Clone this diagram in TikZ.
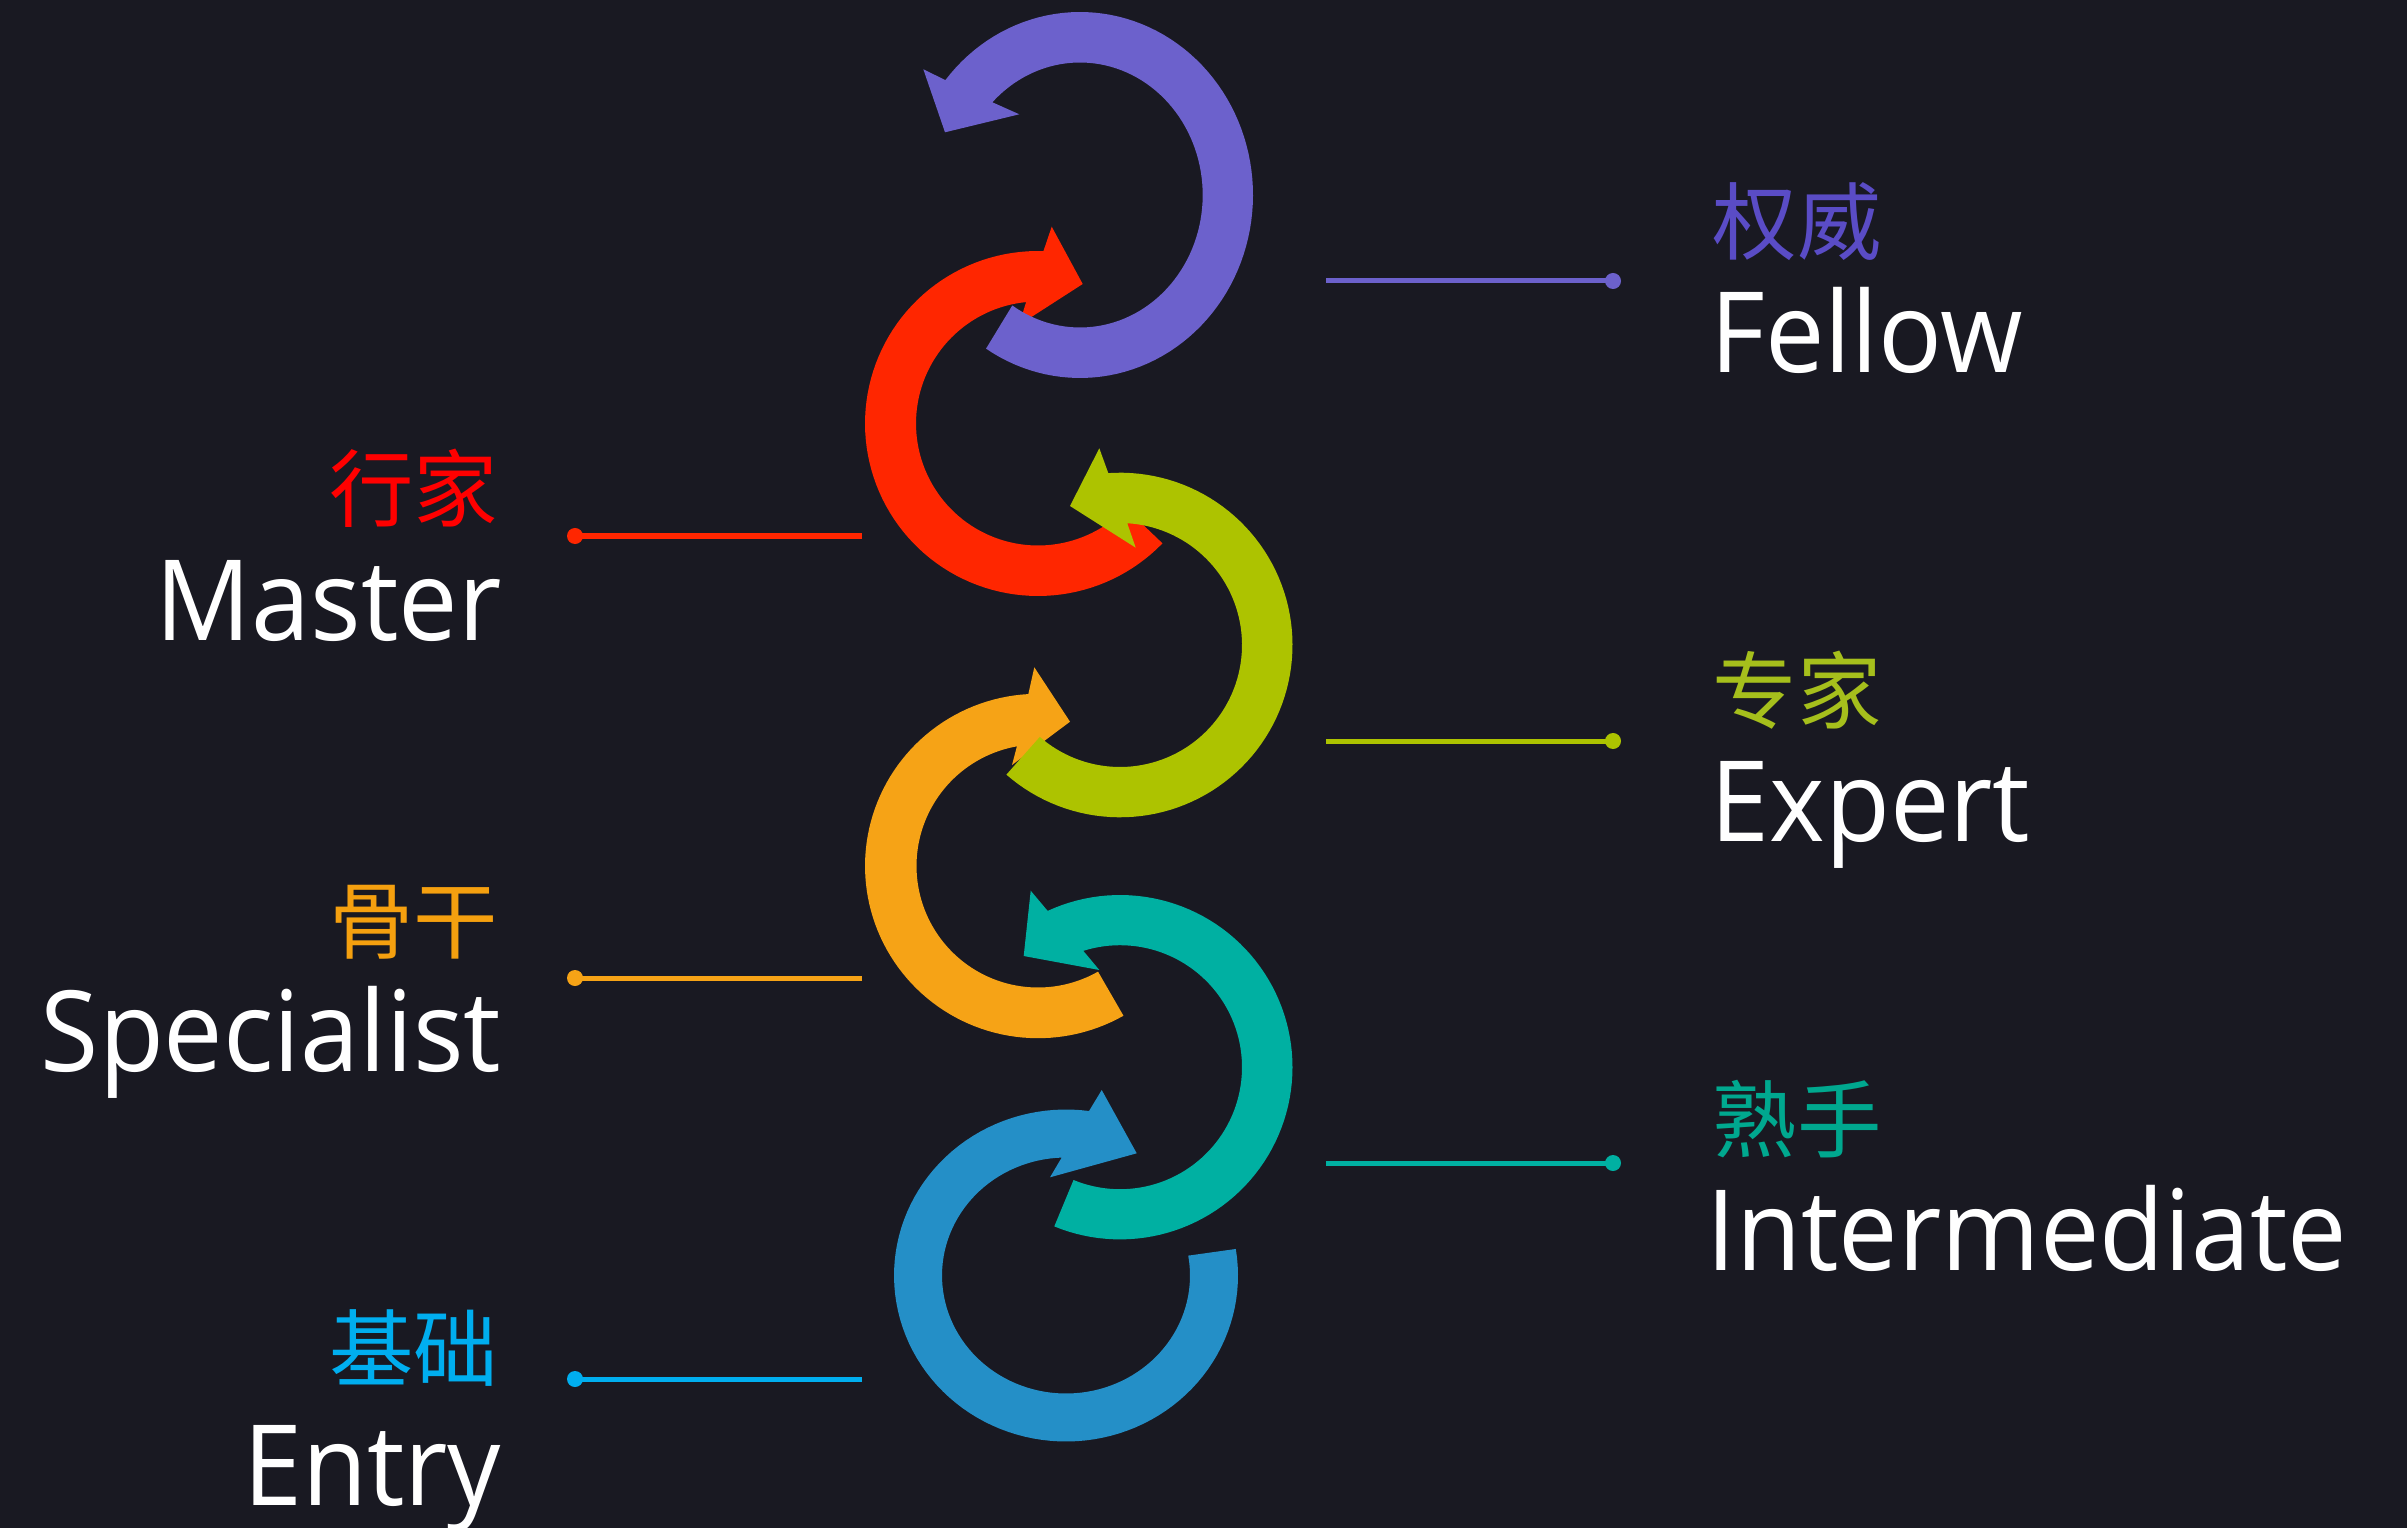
\documentclass[tikz,border=0pt]{standalone}
\usepackage{fontspec}
\setmainfont[FakeStretch=0.945]{Open Sans}
\newfontfamily\cjk{Noto Sans CJK SC}
\definecolor{bgc}{HTML}{191922}
\definecolor{cPurple}{HTML}{6C61CC}
\definecolor{cRed}{HTML}{FF2600}
\definecolor{cGreen}{HTML}{ADC300}
\definecolor{cOrange}{HTML}{F6A316}
\definecolor{cTeal}{HTML}{00B0A2}
\definecolor{cBlue}{HTML}{248FC7}
\definecolor{tPurple}{HTML}{5A4CC6}
\definecolor{tRed}{HTML}{FF0000}
\definecolor{tGreen}{HTML}{A6BF1C}
\definecolor{tOrange}{HTML}{F5A00F}
\definecolor{tTeal}{HTML}{00A88F}
\definecolor{tBlue}{HTML}{00AEEF}
\begin{document}
\begin{tikzpicture}[x=0.01cm,y=-0.01cm,
  lat/.style={inner sep=0pt, text=white, font=\fontsize{31.9pt}{36pt}\selectfont},
  han/.style={inner sep=0pt, font=\cjk\fontsize{24pt}{28pt}\selectfont},
  leader/.style={line width=0.05cm},
  dotmark/.style={radius=0.8mm}]
\useasboundingbox (0,0) rectangle (2407,1528);
\fill[bgc] (0,0) rectangle (2407,1528);

% arrows (drawing order matters for overlaps)
% red
\fill[cRed] plot[domain=44:271.8, samples=90] ({1038+173*cos(\x)},{423.5+172.5*sin(\x)})
  -- (1051.7,226.7) -- (1082.7,284) -- (1019,325)
  -- plot[domain=264.4:44, samples=90] ({1038+122*cos(\x)},{423.5+122*sin(\x)}) -- cycle;
% orange
\fill[cOrange] plot[domain=60.4:266.8, samples=90] ({1038+173*cos(\x)},{866+172.2*sin(\x)})
  -- (1034.3,667.3) -- (1070,721.7) -- (1012,765)
  -- plot[domain=260:60.4, samples=90] ({1038+121.5*cos(\x)},{866+121.5*sin(\x)}) -- cycle;
% blue
\fill[cBlue] plot[domain=-9.2:277.7, samples=100] ({1066+172*cos(\x)},{1275.5+166*sin(\x)})
  -- (1101.7,1090) -- (1136.7,1153.3) -- (1050,1177.3)
  -- plot[domain=268:-9.7, samples=100] ({1066+124*cos(\x)},{1275.5+118*sin(\x)}) -- cycle;
% teal
\fill[cTeal] plot[domain=112.4:-114.8, samples=90] ({1120+172.5*cos(\x)},{1067.2+172.2*sin(\x)})
  -- (1030.7,890.7) -- (1023.7,956) -- (1099.3,970)
  -- plot[domain=-107.5:112.4, samples=90] ({1120+122*cos(\x)},{1067.2+122*sin(\x)}) -- cycle;
% green
\fill[cGreen] plot[domain=131.2:-93.9, samples=90] ({1120+172.5*cos(\x)},{645+172.3*sin(\x)})
  -- (1099.3,448.3) -- (1070,506) -- (1135.7,547.7)
  -- plot[domain=-86.6:131.1, samples=90] ({1120+122*cos(\x)},{645+122*sin(\x)}) -- cycle;
% purple
\fill[cPurple] plot[domain=122.9:-141.1, samples=100] ({1080+173*cos(\x)},{195+183*sin(\x)})
  -- (923.3,69.3) -- (945,132.3) -- (1019.3,114.3)
  -- plot[domain=-135.6:123.5, samples=100] ({1080+122.7*cos(\x)},{195+132.5*sin(\x)}) -- cycle;

% leader lines
\coordinate (fA) at (1326,281);  \coordinate (fB) at (1613,281);
\coordinate (mA) at (862,536);   \coordinate (mB) at (575,536);
\coordinate (eA) at (1326,741);  \coordinate (eB) at (1613,741);
\coordinate (sA) at (862,978);   \coordinate (sB) at (575,978);
\coordinate (iA) at (1326,1163); \coordinate (iB) at (1613,1163);
\coordinate (nA) at (862,1379);  \coordinate (nB) at (575,1379);
\draw[leader, cPurple] (fA) -- (fB); \fill[cPurple] (fB) circle[dotmark];
\draw[leader, cRed] (mA) -- (mB); \fill[cRed] (mB) circle[dotmark];
\draw[leader, cGreen] (eA) -- (eB); \fill[cGreen] (eB) circle[dotmark];
\draw[leader, cOrange] (sA) -- (sB); \fill[cOrange] (sB) circle[dotmark];
\draw[leader, cTeal] (iA) -- (iB); \fill[cTeal] (iB) circle[dotmark];
\draw[leader, tBlue] (nA) -- (nB); \fill[tBlue] (nB) circle[dotmark];

% right labels
\node[han, text=tPurple, anchor=base west] (fz) at (1712,254) {权威};
\node[lat, anchor=base west] (fe) at (1710,373) {Fellow};
\node[han, text=tGreen, anchor=base west] (ez) at (1712,722) {专家};
\node[lat, anchor=base west] (ee) at (1710,841) {Expert};
\node[han, text=tTeal, anchor=base west] (iz) at (1712,1151) {熟手};
\node[lat, anchor=base west] (ie) at (1706,1270) {Intermediate};

% left labels
\node[han, text=tRed, anchor=base east] (mz) at (499,521) {行家};
\node[lat, anchor=base east] (me) at (502,640) {Master};
\node[han, text=tOrange, anchor=base east] (sz) at (499,952) {骨干};
\node[lat, anchor=base east] (se) at (502,1071) {Specialist};
\node[han, text=tBlue, anchor=base east] (nz) at (499,1380) {基础};
\node[lat, anchor=base east] (ne) at (502,1505) {Entry};
\end{tikzpicture}
\end{document}
